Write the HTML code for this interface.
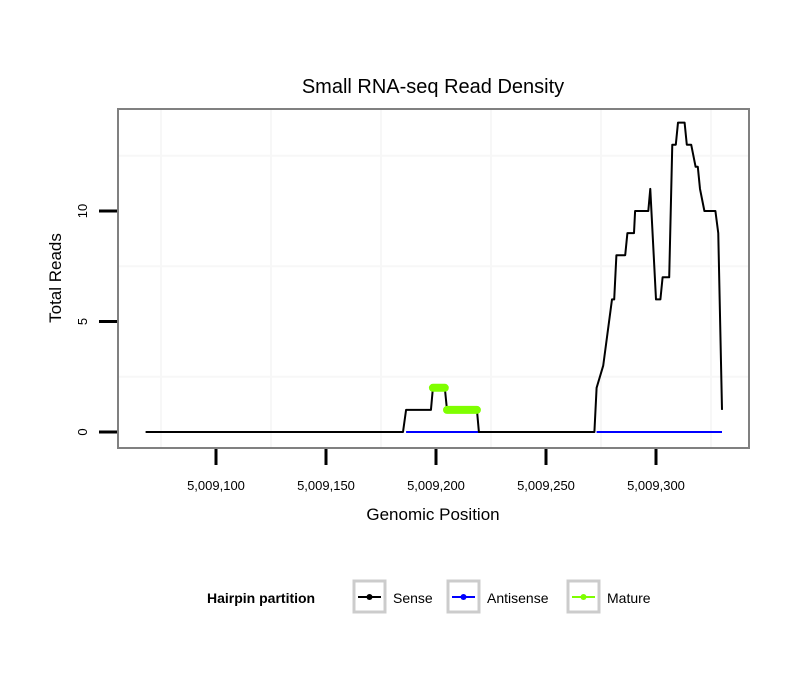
<!DOCTYPE html>
<html><head><meta charset="utf-8"><style>
body{margin:0;background:#fff;}
svg text{font-family:"Liberation Sans",sans-serif;}
</style></head><body>
<svg id="chart" width="810" height="690" xmlns="http://www.w3.org/2000/svg">
<rect width="810" height="690" fill="#fff"/>
<text x="433" y="93" font-size="20" text-anchor="middle">Small RNA-seq Read Density</text>
<g id="grid"></g>
<g id="series"></g>
<rect x="118" y="109" width="631" height="339" fill="none" stroke="#808080" stroke-width="2"/>
<g id="axes"></g>
<text x="433" y="520" font-size="17" text-anchor="middle">Genomic Position</text>
<text transform="translate(61,278) rotate(-90)" font-size="17" text-anchor="middle">Total Reads</text>
<g>
<text x="207" y="603" font-size="14" font-weight="bold">Hairpin partition</text>
<g>
<rect x="354" y="581" width="31" height="31" fill="#fff" stroke="#ccc" stroke-width="3"/>
<line x1="358" y1="597" x2="381" y2="597" stroke="#000" stroke-width="2"/><circle cx="369.5" cy="597" r="3" fill="#000"/>
<text x="393" y="603" font-size="14">Sense</text></g>
<g>
<rect x="448" y="581" width="31" height="31" fill="#fff" stroke="#ccc" stroke-width="3"/>
<line x1="452" y1="597" x2="475" y2="597" stroke="#00f" stroke-width="2"/><circle cx="463.5" cy="597" r="3" fill="#00f"/>
<text x="487" y="603" font-size="14">Antisense</text></g>
<g>
<rect x="568" y="581" width="31" height="31" fill="#fff" stroke="#ccc" stroke-width="3"/>
<line x1="572" y1="597" x2="595" y2="597" stroke="#7fff00" stroke-width="2"/><circle cx="583.5" cy="597" r="3" fill="#7fff00"/>
<text x="607" y="603" font-size="14">Mature</text></g>
</g>
</svg>
<script>
// positions are offsets from 5,009,000
const sensePos = [68,185,186.4,197.7,198.6,204,205,218.6,219.5,272,273,276,280,281,282,286,287,290,290.5,296.5,297.4,300,302,303,306,307.4,309,310,313,314,316,318,319,320,322,327,328.3,330];
const senseVal = [0,0,1,1,2,2,1,1,0,0,2,3,6,6,8,8,9,9,10,10,11,6,6,7,7,13,13,14,14,13,13,12,12,11,10,10,9,1];
const antiSegStart = [186.4,273];
const antiSegEnd = [219.5,330];
const matureStart = [198.6,205];
const matureEnd = [204,218.6];
const matureVal = [2,1];
const xTicks = [100,150,200,250,300];
const xTickLabels = ["5,009,100","5,009,150","5,009,200","5,009,250","5,009,300"];
const yTicks = [0,5,10];
const yTickLabels = ["0","5","10"];

const NS="http://www.w3.org/2000/svg";
const xs = v => 216 + (v-100)*2.2;
const ys = v => 432 - v*22.1;
function mk(tag, attrs, parent){const e=document.createElementNS(NS,tag);for(const k in attrs)e.setAttribute(k,attrs[k]);parent.appendChild(e);return e;}
const grid=document.getElementById('grid'), series=document.getElementById('series'), axes=document.getElementById('axes');
for(let v=75; v<=325; v+=50){const l=mk('line',{x1:xs(v),x2:xs(v),y1:110,y2:447,stroke:'#f7f7f7','stroke-width':2},grid);

}
for(const v of [2.5,7.5,12.5]){const l=mk('line',{x1:119,x2:748,y1:ys(v),y2:ys(v),stroke:'#f7f7f7','stroke-width':2},grid);

}
for(let i=0;i<antiSegStart.length;i++){const l=mk('line',{x1:xs(antiSegStart[i]),x2:xs(antiSegEnd[i]),y1:ys(0),y2:ys(0),stroke:'#00f','stroke-width':2},series);

}
const sp=mk('polyline',{points:sensePos.map((p,i)=>xs(p)+','+ys(senseVal[i])).join(' '),fill:'none',stroke:'#000','stroke-width':2,'stroke-linejoin':'round'},series);


for(let i=0;i<matureStart.length;i++){const l=mk('line',{x1:xs(matureStart[i]),x2:xs(matureEnd[i]),y1:ys(matureVal[i]),y2:ys(matureVal[i]),stroke:'#7fff00','stroke-width':8,'stroke-linecap':'round'},series);

}
xTicks.forEach((v,i)=>{const t=mk('line',{x1:xs(v),x2:xs(v),y1:449,y2:465,stroke:'#000','stroke-width':3},axes);


const tx=mk('text',{x:xs(v),y:490,'font-size':13,'text-anchor':'middle'},axes);tx.textContent=xTickLabels[i];

});
yTicks.forEach((v,i)=>{const t=mk('line',{x1:99,x2:117,y1:ys(v),y2:ys(v),stroke:'#000','stroke-width':3},axes);


const tx=mk('text',{transform:`translate(87,${ys(v)}) rotate(-90)`,'font-size':13,'text-anchor':'middle'},axes);tx.textContent=yTickLabels[i];

});
</script>
</body></html>
